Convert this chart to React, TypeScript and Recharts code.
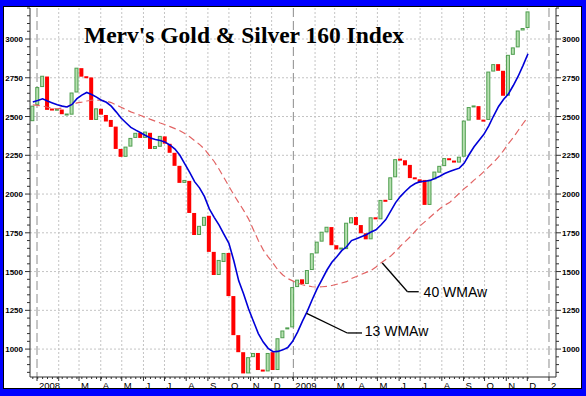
import React from 'react';
import { ComposedChart, Bar, Line, XAxis, YAxis, ReferenceLine, ReferenceDot, CartesianGrid } from 'recharts';

// ---- data ----
const firstWeek = '2007-12-26';
const weekCount = 102;

const opens: number[] = [
  2470, 2575, 2690, 2758, 2548, 2540, 2545, 2508, 2512, 2655,
  2812, 2757, 2752, 2478, 2550, 2510, 2478, 2435, 2291, 2240,
  2306, 2362, 2395, 2362, 2395, 2291, 2305, 2372, 2324, 2266,
  2182, 2072, 2085, 1878, 1736, 1795, 1860, 1627, 1478, 1562,
  1620, 1342, 1090, 980, 843, 948, 975, 865, 856, 980,
  865, 1070, 1127, 1140, 1400, 1450, 1420, 1510, 1617, 1693,
  1753, 1787, 1670, 1643, 1645, 1811, 1852, 1800, 1747, 1708,
  1850, 1837, 1962, 1962, 2108, 2226, 2218, 2188, 2108, 2095,
  2091, 1930, 2095, 2138, 2180, 2231, 2216, 2203, 2241, 2474,
  2561, 2567, 2479, 2478, 2790, 2838, 2795, 2634, 2898, 2946,
  3055, 3071,
];
const closes: number[] = [
  2570, 2690, 2763, 2543, 2542, 2548, 2515, 2518, 2655, 2815,
  2757, 2750, 2478, 2553, 2512, 2468, 2433, 2291, 2240, 2306,
  2362, 2395, 2362, 2403, 2291, 2310, 2375, 2325, 2266, 2182,
  2072, 2091, 1878, 1736, 1795, 1853, 1627, 1478, 1575, 1620,
  1342, 1090, 980, 843, 948, 975, 865, 858, 975, 865,
  1070, 1120, 1140, 1400, 1448, 1420, 1510, 1618, 1693, 1757,
  1789, 1670, 1643, 1654, 1815, 1850, 1800, 1747, 1708, 1850,
  1837, 1962, 1951, 2108, 2225, 2218, 2185, 2103, 2095, 2073,
  1930, 2091, 2145, 2182, 2232, 2218, 2203, 2241, 2474, 2561,
  2569, 2479, 2468, 2790, 2838, 2795, 2634, 2898, 2946, 3055,
  3071, 3178,
];
const wma13: number[] = [
  2593, 2603, 2614, 2600, 2588, 2576, 2567, 2562, 2578, 2615,
  2638, 2655, 2642, 2625, 2605, 2592, 2567, 2530, 2490, 2460,
  2430, 2412, 2395, 2378, 2362, 2352, 2345, 2335, 2315, 2290,
  2250, 2195, 2140, 2080, 2040, 1985, 1905, 1850, 1800, 1740,
  1682, 1570, 1440, 1355, 1260, 1180, 1100, 1045, 1005, 983,
  985, 995, 1010, 1050, 1110, 1180, 1245, 1320, 1390, 1450,
  1510, 1560, 1595, 1635, 1660, 1700, 1712, 1725, 1738, 1755,
  1770, 1800, 1835, 1890, 1945, 1985, 2018, 2048, 2068, 2080,
  2083, 2088, 2100, 2115, 2132, 2145, 2157, 2167, 2200, 2255,
  2305, 2345, 2385, 2440, 2505, 2565, 2610, 2645, 2700, 2760,
  2830, 2905,
];
const wma40: number[] = [
  2575, 2572, 2568, 2560, 2553, 2550, 2555, 2565, 2578, 2588,
  2593, 2600, 2605, 2606, 2605, 2600, 2590, 2575, 2560, 2545,
  2530, 2518, 2507, 2495, 2482, 2470, 2458, 2447, 2435, 2422,
  2408, 2390, 2370, 2345, 2320, 2290, 2250, 2210, 2160, 2105,
  2050, 1995, 1945, 1895, 1840, 1770, 1700, 1640, 1595, 1555,
  1510, 1478, 1455, 1440, 1425, 1415, 1408, 1402, 1400, 1402,
  1405, 1410, 1418, 1426, 1435, 1455, 1468, 1482, 1495, 1508,
  1530, 1555, 1578, 1600, 1630, 1665, 1695, 1725, 1760, 1795,
  1822, 1850, 1878, 1905, 1928, 1945, 1975, 2005, 2035, 2060,
  2090, 2115, 2145, 2175, 2205, 2240, 2280, 2325, 2365, 2410,
  2455, 2496,
];

const monthTickDates: string[] = [
  '2008-01-01', '2008-02-01', '2008-03-01', '2008-04-01', '2008-05-01', '2008-06-01',
  '2008-07-01', '2008-08-01', '2008-09-01', '2008-10-01', '2008-11-01', '2008-12-01',
  '2009-01-01', '2009-02-01', '2009-03-01', '2009-04-01', '2009-05-01', '2009-06-01',
  '2009-07-01', '2009-08-01', '2009-09-01', '2009-10-01', '2009-11-01', '2009-12-01',
  '2010-01-01',
];
const monthTickLabels: string[] = [
  '2008', '', 'M', 'A', 'M', 'J', 'J', 'A', 'S', 'O', 'N', 'D',
  '2009', '', 'M', 'A', 'M', 'J', 'J', 'A', 'S', 'O', 'N', 'D',
  '2',
];
const yearLineDates: string[] = ['2008-01-01', '2009-01-01', '2010-01-01'];
const yMajorTicks: number[] = [1000, 1250, 1500, 1750, 2000, 2250, 2500, 2750, 3000];
const yMinorStep = 50;
const yDomain: [number, number] = [820, 3200];
const xDomainDates: [string, string] = ['2007-12-22', '2010-01-11'];

const title = "Merv's Gold & Silver 160 Index";
const label13 = '13 WMAw';
const label40 = '40 WMAw';
// annotation anchors in data units (date, value)
const lead13: [string, number][] = [['2009-01-20', 1230], ['2009-03-19', 1104], ['2009-04-09', 1104]];
const text13: [string, number] = ['2009-04-13', 1117];
const lead40: [string, number][] = [['2009-05-08', 1555], ['2009-06-13', 1370], ['2009-06-29', 1370]];
const text40: [string, number] = ['2009-07-06', 1371];

// ---- helpers ----
const base = Date.UTC(2008, 0, 1);
const toDay = (s: string) => {
  const [y, m, d] = s.split('-').map(Number);
  return Math.round((Date.UTC(y, m - 1, d) - base) / 86400000);
};
const firstDay = toDay(firstWeek);
const weekDays = Array.from({ length: weekCount }, (_, i) => firstDay + 7 * i);

const rows = weekDays.map((day, i) => ({
  day,
  box: [Math.min(opens[i], closes[i]), Math.max(opens[i], closes[i])],
  up: closes[i] >= opens[i],
  wma13: wma13[i],
  wma40: wma40[i],
}));

const monthDays = monthTickDates.map(toDay);
const labelByDay = new Map<number, string>();
monthDays.forEach((d, i) => labelByDay.set(d, monthTickLabels[i]));
const yearDays = yearLineDates.map(toDay);
const gridMonthDays = monthDays.filter((d) => !yearDays.includes(d));
const xTicks = Array.from(new Set([...monthDays, ...weekDays])).sort((a, b) => a - b);
const yTicks: number[] = [];
for (let v = Math.ceil(yDomain[0] / yMinorStep) * yMinorStep; v <= yDomain[1]; v += yMinorStep) yTicks.push(v);

const FONT = 'Liberation Sans, Arial, sans-serif';
const AXIS = '#303030';

const Candle = (props: any) => {
  const { x, y, width, height, payload } = props;
  if (x == null || y == null) return null;
  let top = Math.min(y, y + height);
  let h = Math.abs(height);
  if (h < 2) { top -= (2 - h) / 2; h = 2; }
  if (payload.up) {
    return <rect x={x + 0.5} y={top + 0.5} width={width - 1} height={Math.max(h - 1, 1)} fill="#b6e0b0" stroke="#4f9e4f" strokeWidth={1} />;
  }
  return <rect x={x} y={top} width={width} height={h} fill="#ff0000" />;
};

const XTick = (props: any) => {
  const { x, y, payload } = props;
  const v = payload.value;
  const label = labelByDay.get(v);
  if (label === undefined) {
    return <line x1={x} x2={x} y1={y} y2={y + 2} stroke={AXIS} strokeWidth={1} />;
  }
  return (
    <g>
      <line x1={x} x2={x} y1={y} y2={y + 4} stroke={AXIS} strokeWidth={1} />
      {label ? (
        <text x={x + 2} y={y + 12} fontSize={9.5} fontFamily={FONT} fill="#000">{label}</text>
      ) : null}
    </g>
  );
};

const LeftTick = (props: any) => {
  const { x, y, payload } = props;
  const major = yMajorTicks.includes(payload.value);
  return (
    <g>
      <line x1={x - (major ? 5 : 3)} x2={x} y1={y} y2={y} stroke={AXIS} strokeWidth={1} />
      {major ? (
        <text x={x - 7} y={y + 3} textAnchor="end" fontSize={8} fontWeight="bold" fontFamily={FONT} fill="#000">{payload.value}</text>
      ) : null}
    </g>
  );
};

const RightTick = (props: any) => {
  const { x, y, payload } = props;
  const major = yMajorTicks.includes(payload.value);
  return (
    <g>
      <line x1={x} x2={x + (major ? 5 : 3)} y1={y} y2={y} stroke={AXIS} strokeWidth={1} />
      {major ? (
        <text x={x + 6} y={y + 3} textAnchor="start" fontSize={8} fontWeight="bold" fontFamily={FONT} fill="#000">{payload.value}</text>
      ) : null}
    </g>
  );
};

const seg = (pts: [string, number][]) => pts.map(([d, v]) => ({ x: toDay(d), y: v }));

export default function App() {
  const W = 586;
  const H = 396;
  const l13 = seg(lead13);
  const l40 = seg(lead40);
  return (
    <div style={{ position: 'fixed', left: 0, top: 0, width: W, height: H, background: '#0000ff', overflow: 'hidden' }}>
      <div style={{ position: 'absolute', left: 3, top: 6, width: 579, height: 383, boxSizing: 'border-box', border: '1px solid #000', background: '#fff' }} />
      <div style={{ position: 'absolute', left: 0, top: 0 }}>
        <ComposedChart width={W} height={H} data={rows} margin={{ top: 8, right: 0, bottom: 0, left: 0 }}>
          <CartesianGrid
            yAxisId="left"
            stroke="#c4c4c4"
            strokeDasharray="2 2"
            horizontalValues={yMajorTicks}
            verticalValues={gridMonthDays}
          />
          <CartesianGrid
            yAxisId="left"
            stroke="#8c8c8c"
            strokeDasharray="9 4"
            horizontal={false}
            verticalValues={yearDays}
          />
          <XAxis
            dataKey="day"
            type="number"
            domain={[toDay(xDomainDates[0]), toDay(xDomainDates[1])]}
            allowDataOverflow
            ticks={xTicks}
            interval={0}
            height={19}
            tickSize={0}
            tickMargin={0}
            tickLine={false}
            axisLine={{ stroke: AXIS }}
            tick={(p: any) => <XTick {...p} />}
          />
          <YAxis
            yAxisId="left"
            orientation="left"
            type="number"
            domain={yDomain}
            allowDataOverflow
            ticks={yTicks}
            interval={0}
            width={30}
            tickSize={0}
            tickMargin={0}
            tickLine={false}
            axisLine={{ stroke: AXIS }}
            tick={(p: any) => <LeftTick {...p} />}
          />
          <YAxis
            yAxisId="right"
            orientation="right"
            type="number"
            domain={yDomain}
            allowDataOverflow
            ticks={yTicks}
            interval={0}
            width={30}
            tickSize={0}
            tickMargin={0}
            tickLine={false}
            axisLine={{ stroke: AXIS }}
            tick={(p: any) => <RightTick {...p} />}
          />
          <Bar yAxisId="left" dataKey="box" barSize={4} shape={(p: any) => <Candle {...p} />} isAnimationActive={false} />
          <Line yAxisId="left" type="linear" dataKey="wma40" stroke="#e26464" strokeWidth={1.2} strokeDasharray="7 4" dot={false} activeDot={false} isAnimationActive={false} />
          <Line yAxisId="left" type="linear" dataKey="wma13" stroke="#0000d8" strokeWidth={1.6} dot={false} activeDot={false} isAnimationActive={false} />
          <ReferenceLine yAxisId="left" segment={[l13[0], l13[1]]} stroke="#000" strokeWidth={1.3} />
          <ReferenceLine yAxisId="left" segment={[l13[1], l13[2]]} stroke="#000" strokeWidth={1.3} />
          <ReferenceLine yAxisId="left" segment={[l40[0], l40[1]]} stroke="#000" strokeWidth={1.3} />
          <ReferenceLine yAxisId="left" segment={[l40[1], l40[2]]} stroke="#000" strokeWidth={1.3} />
          <ReferenceDot
            yAxisId="left"
            x={toDay(text13[0])}
            y={text13[1]}
            r={0}
            fill="none"
            stroke="none"
            label={{ value: label13, position: 'right', offset: 0, fontSize: 14, fontFamily: FONT, fill: '#000' }}
          />
          <ReferenceDot
            yAxisId="left"
            x={toDay(text40[0])}
            y={text40[1]}
            r={0}
            fill="none"
            stroke="none"
            label={{ value: label40, position: 'right', offset: 0, fontSize: 14, fontFamily: FONT, fill: '#000' }}
          />
        </ComposedChart>
      </div>
      <svg width={W} height={H} style={{ position: 'absolute', left: 0, top: 0, pointerEvents: 'none' }}>
        <text x={84} y={43} fontSize={23.5} fontWeight="bold" fontFamily="Liberation Serif, Times New Roman, serif" fill="#000">{title}</text>
      </svg>
    </div>
  );
}
